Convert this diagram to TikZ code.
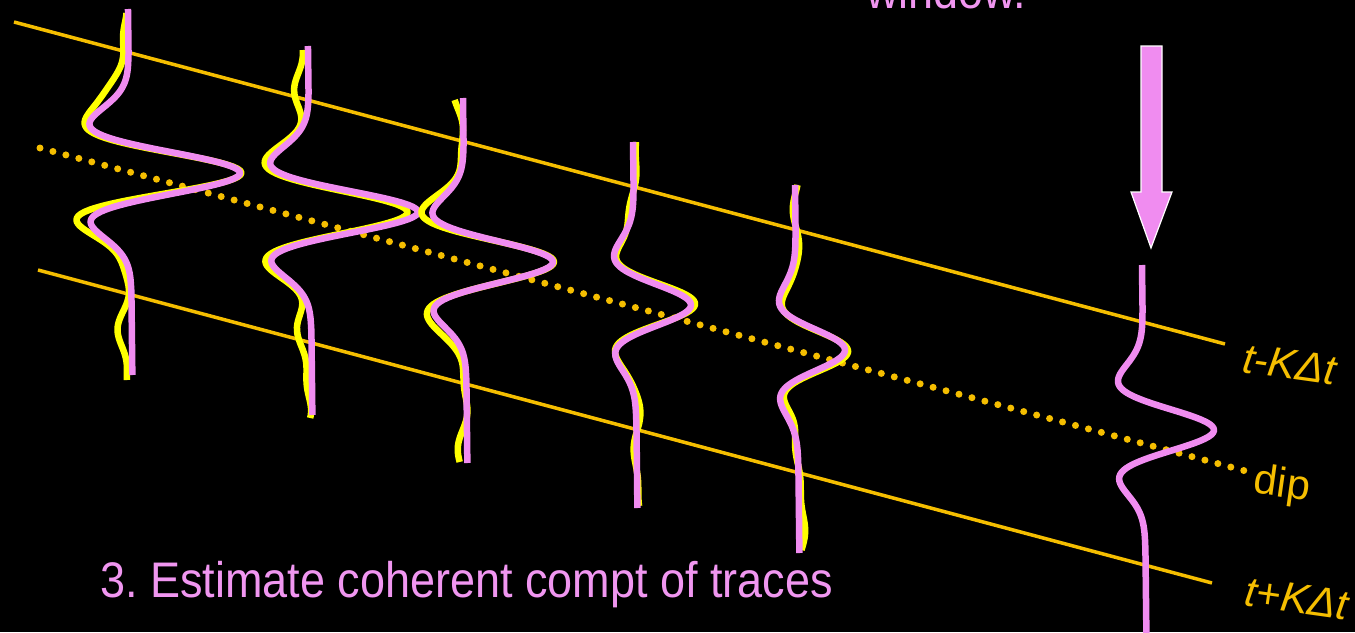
\documentclass[tikz,border=0pt]{standalone}
\usepackage{fontspec}
\setmainfont{Liberation Sans}
\newfontfamily\condfont[FakeStretch=0.9]{Liberation Sans}
\frenchspacing
\definecolor{gold}{RGB}{245,190,0}
\definecolor{pinkc}{RGB}{240,140,240}
\definecolor{yel}{RGB}{255,255,0}
\definecolor{txtpink}{RGB}{240,150,240}
\newcommand{\wavetrace}[8]{%
 \draw[#1] plot[variable=\t, domain=#5:#6, samples=180] ({#2 + #8 + 0.012*(\t-#3) + #4*(1-1.75*(((\t-#3)/39)^2))*exp(-1*(((\t-#3)/39)^2)) + #7*(sin(2.9*\t+20)+0.5*sin(6.1*\t+70))}, \t);%
}
\begin{document}
\begin{tikzpicture}[x=1pt,y=-1pt,
  gline/.style={gold, line width=3.5pt},
  dipline/.style={gold, line width=7pt, line cap=round, dash pattern=on 0pt off 13.4pt},
  ptrace/.style={pinkc, line width=6.5pt, line join=round},
  ytrace/.style={yel, line width=6.5pt, line join=round},
  lab/.style={text=gold, font=\fontsize{42}{44}\selectfont, rotate=-8, inner sep=0pt},
  slide/.style={text=txtpink, font=\condfont\fontsize{50}{56}\selectfont, inner sep=0pt},
  bigarrow/.style={fill=pinkc, draw=white, line width=1.2pt, line join=miter}]
\fill[black] (0,0) rectangle (1355,632);
\useasboundingbox (0,0) rectangle (1355,632);
\clip (0,0) rectangle (1355,632);

% guide lines
\coordinate (tls) at (14,22);
\coordinate (tle) at (1225,344);
\coordinate (bls) at (38,270);
\coordinate (ble) at (1212,583);
\coordinate (dls) at (40,148);
\coordinate (dle) at (1253,473);
\draw[gline] (tls) -- (tle);
\draw[gline] (bls) -- (ble);
\draw[dipline] (dls) -- (dle);

% labels
\node[lab, anchor=west] (lab1) at (1243,358) {\itshape t-KΔt};
\node[lab, anchor=west] (lab2) at (1254,482) {dip};
\node[lab, anchor=west] (lab3) at (1245,591) {\itshape t+KΔt};

% traces: yellow (data) then pink (coherent estimate)
\wavetrace{ytrace}{126}{173}{115}{13}{380}{5}{-3}
\wavetrace{ptrace}{130}{173}{110}{9}{375}{0}{0}
\wavetrace{ytrace}{306}{212}{112}{50}{418}{5}{-3}
\wavetrace{ptrace}{310}{212}{108}{46}{415}{0}{0}
\wavetrace{ytrace}{463}{262}{91}{100}{462}{4}{-2}
\wavetrace{ptrace}{465}{262}{88}{98}{463}{0}{0}
\wavetrace{ytrace}{636}{305}{58}{142}{506}{3}{0}
\wavetrace{ptrace}{635}{305}{56}{142}{508}{0}{0}
\wavetrace{ytrace}{799}{350}{50}{185}{550}{3}{0}
\wavetrace{ptrace}{797}{350}{48}{185}{553}{0}{0}
\wavetrace{ptrace}{1144}{430}{70}{265}{640}{0}{0}

% arrow
\draw[bigarrow] (1141,46) -- (1162,46) -- (1162,192) -- (1172,192) -- (1151,248) -- (1131,192) -- (1141,192) -- cycle;

% texts
\node[slide, anchor=base west] (title) at (100,597) {3. Estimate coherent compt of traces};
\node[slide, anchor=base west] (win) at (866,8) {window.};
\end{tikzpicture}
\end{document}
